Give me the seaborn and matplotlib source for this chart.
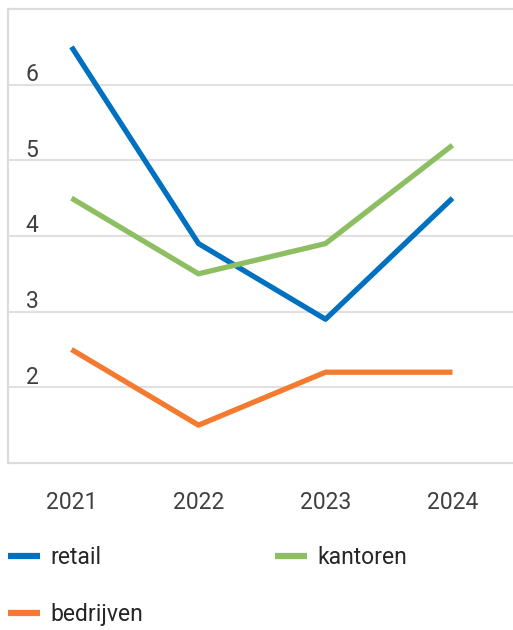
import pandas as pd
import matplotlib
matplotlib.use('Agg')
import matplotlib.pyplot as plt
import seaborn as sns

years = ['2021', '2022', '2023', '2024']
retail = [6.5, 3.9, 2.9, 4.5]
kantoren = [4.5, 3.5, 3.9, 5.2]
bedrijven = [2.5, 1.5, 2.2, 2.2]
series_names = ['retail', 'kantoren', 'bedrijven']
y_ticks = [2, 3, 4, 5, 6]

colors = {'retail': '#0070C0', 'kantoren': '#8DBF62', 'bedrijven': '#F37A2E'}

data = pd.DataFrame({
    'jaar': years * 3,
    'waarde': retail + kantoren + bedrijven,
    'sector': [s for s in series_names for _ in years],
})

sns.set_style('white')
plt.rcParams['font.family'] = ['Roboto', 'DejaVu Sans']

fig = plt.figure(figsize=(5.13, 6.3), dpi=100)
ax = fig.add_axes([8 / 513, 1 - 463 / 630, 1 - 8 / 513 + 3 / 513, (463 - 9) / 630])

sns.lineplot(data=data, x='jaar', y='waarde', hue='sector', palette=colors,
             linewidth=3.8, ax=ax, sort=False, solid_capstyle='butt')

ax.set_xlim(-0.5, 3.5)
ax.set_ylim(1, 7)
ax.set_xlabel('')
ax.set_ylabel('')

# grid lines + labels sitting above them
ax.set_yticks(y_ticks)
ax.set_yticklabels([])
ax.tick_params(axis='y', length=0)
for v in y_ticks:
    ax.axhline(v, color='#e0e0e0', lw=1.5, zorder=0)
    ax.text(0.035, v + 0.05, str(v), transform=ax.get_yaxis_transform(),
            ha='left', va='baseline', fontsize=16.5, color='#404040')

ax.tick_params(axis='x', length=7, width=1.2, color='#dcdcdc', pad=13,
               labelsize=16.5, labelcolor='#404040', direction='out')

for side in ['left', 'bottom', 'top']:
    ax.spines[side].set_color('#dcdcdc')
    ax.spines[side].set_linewidth(1.6)
ax.spines['right'].set_visible(False)

# legend is filled column by column, so reorder to get retail/kantoren on row 1
handles, labels = ax.get_legend_handles_labels()
order = [labels.index(n) for n in ['retail', 'bedrijven', 'kantoren']]
leg = ax.legend([handles[i] for i in order], [labels[i] for i in order],
                ncol=2, loc='upper left',
                bbox_to_anchor=(8 / 513, 1 - 546 / 630), bbox_transform=fig.transFigure,
                frameon=False, fontsize=16.5, handlelength=1.4, handletextpad=0.45,
                columnspacing=5.75, labelspacing=1.5, borderaxespad=0, borderpad=0)
for line in leg.get_lines():
    line.set_linewidth(4.5)
    line.set_solid_capstyle('butt')

fig.savefig('out.png', dpi=100)
